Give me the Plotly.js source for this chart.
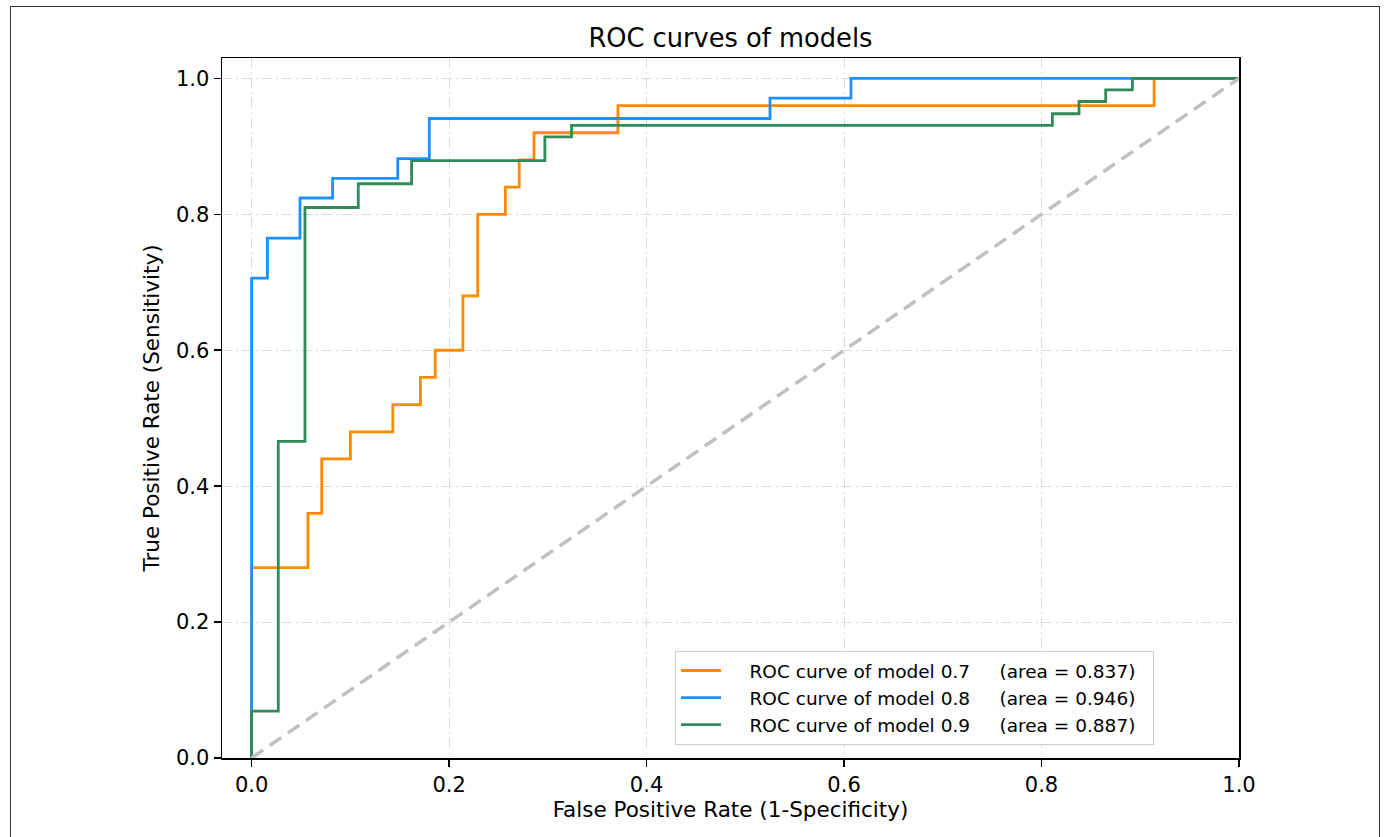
<!DOCTYPE html>
<html>
<head>
<meta charset="utf-8">
<script src="https://cdn.plot.ly/plotly-3.0.1.min.js"></script>
<style>
  html, body { margin: 0; padding: 0; background: #fff; }
  #wrap { position: relative; width: 1386px; height: 837px; overflow: hidden; }
  #chart { position: absolute; left: 0; top: 0; width: 1386px; height: 837px; }
  #frame { position: absolute; left: 10px; top: 6px; width: 1370px; height: 840px;
           border: 1.5px solid #333; box-sizing: border-box; pointer-events: none; }
</style>
</head>
<body>
<div id="wrap">
  <div id="chart"></div>
  <div id="frame"></div>
</div>
<script>
// ---- data ----
const modelNames = ["ROC curve of model 0.7", "ROC curve of model 0.8", "ROC curve of model 0.9"];
const modelAUC   = ["0.837", "0.946", "0.887"];

// model 0.7 (orange)
const fpr07 = [0, 0, 0.057, 0.071, 0.100, 0.143, 0.171, 0.186, 0.214, 0.229, 0.257, 0.271, 0.286, 0.371, 0.914, 1.0];
const tpr07 = [0, 0.28, 0.36, 0.44, 0.48, 0.52, 0.56, 0.60, 0.68, 0.80, 0.84, 0.88, 0.92, 0.96, 1.0, 1.0];

// model 0.8 (blue)
const fpr08 = [0, 0, 0.016, 0.049, 0.082, 0.148, 0.180, 0.525, 0.607, 1.0];
const tpr08 = [0, 0.706, 0.765, 0.824, 0.853, 0.882, 0.941, 0.971, 1.0, 1.0];

// model 0.9 (green)
const fpr09 = [0, 0, 0.027, 0.054, 0.108, 0.162, 0.297, 0.324, 0.811, 0.838, 0.865, 0.892, 1.0];
const tpr09 = [0, 0.069, 0.466, 0.810, 0.845, 0.879, 0.914, 0.931, 0.948, 0.966, 0.983, 1.0, 1.0];

// chance line
const chanceX = [0, 1];
const chanceY = [0, 1];

const tickVals = [0, 0.2, 0.4, 0.6, 0.8, 1.0];
const tickText = ["0.0", "0.2", "0.4", "0.6", "0.8", "1.0"];

const FONT = "DejaVu Sans, Liberation Sans, sans-serif";
const colors = ["#ff8c00", "#1e90ff", "#2e8b57"];
const NB = "\u00a0";

function label(i) {
  return NB + NB + NB + NB + modelNames[i] + NB + NB + NB + NB + " (area = " + modelAUC[i] + ")" + NB + NB;
}

const series = [[fpr07, tpr07], [fpr08, tpr08], [fpr09, tpr09]];
const traces = series.map((s, i) => ({
  type: "scatter", mode: "lines",
  x: s[0], y: s[1],
  line: { color: colors[i], width: 2.8, shape: "hv" },
  name: label(i),
  legendgroup: "g" + i,
  hoverinfo: "skip"
}));
traces.push({
  type: "scatter", mode: "lines",
  x: chanceX, y: chanceY,
  line: { color: "#c0c0c0", width: 3.5, dash: "14px,8px" },
  showlegend: false, hoverinfo: "skip"
});

const axisCommon = {
  showline: true, mirror: true, linecolor: "#000", linewidth: 1.5,
  ticks: "outside", ticklen: 7, tickwidth: 1.5, tickcolor: "#000",
  tickvals: tickVals, ticktext: tickText,
  tickfont: { family: FONT, size: 21, color: "#000" },
  showgrid: true, gridcolor: "#d9d9d9", gridwidth: 1, griddash: "10px,4px,2px,4px",
  zeroline: false, automargin: false
};

const layout = {
  width: 1386, height: 837,
  margin: { l: 222, r: 147, t: 58, b: 79 },
  paper_bgcolor: "#fff", plot_bgcolor: "#fff",
  font: { family: FONT, color: "#000" },
  title: { text: "ROC curves of models", font: { family: FONT, size: 25.7, color: "#000" },
           x: 0.527, xanchor: "center", y: 0.955, yanchor: "middle" },
  xaxis: Object.assign({}, axisCommon, {
    range: [-0.03, 1.0],
    title: { text: "False Positive Rate (1-Specificity)", font: { family: FONT, size: 21.5, color: "#000" }, standoff: 6 }
  }),
  yaxis: Object.assign({}, axisCommon, {
    range: [0, 1.03],
    title: { text: "True Positive Rate (Sensitivity)", font: { family: FONT, size: 21.5, color: "#000" }, standoff: 10 }
  }),
  showlegend: true,
  legend: {
    x: 0.9164, y: 0.0186, xanchor: "right", yanchor: "bottom",
    bgcolor: "rgba(255,255,255,0.85)", bordercolor: "#cccccc", borderwidth: 1,
    font: { family: FONT, size: 18.5, color: "#000" },
    tracegroupgap: 14, itemwidth: 40, traceorder: "normal"
  }
};

Plotly.newPlot("chart", traces, layout, { displayModeBar: false, staticPlot: true });
</script>
</body>
</html>
